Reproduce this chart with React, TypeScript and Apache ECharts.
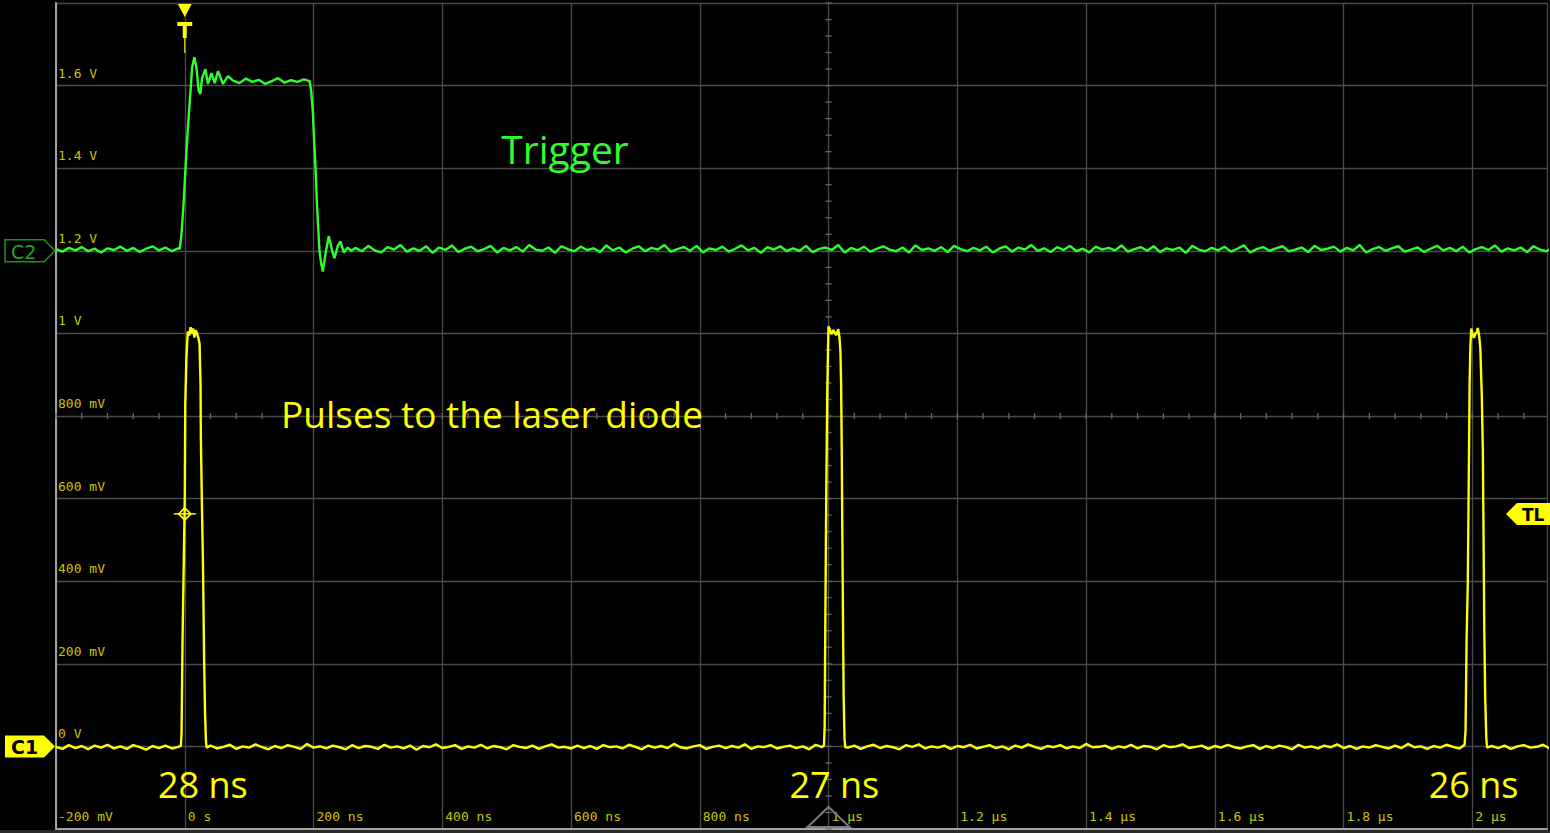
import React, { useEffect, useRef } from "react";
import * as echarts from "echarts";

// ---- axis settings (ns, volts) ----
const X_MIN = -200;
const X_MAX = 2116;
const X_STEP = 200;
const Y_MIN = -0.2;
const Y_MAX = 1.8;
const Y_STEP = 0.2;
const SAMPLE_NS = 10;

// ---- C2 (green, trigger) ----
const c2PreMv = [1204,1198,1207,1201,1209,1199,1205,1196,1206,1202,1210,1200,1207,1197,1205,1211,1201,1208,1199,1206];
const c2Rise: number[][] = [
  [-7.8, 1.205], [-5.1, 1.24], [-1.6, 1.32], [1.1, 1.40], [3.6, 1.466], [6.7, 1.539], [9.3, 1.594],
  [11.3, 1.643], [15, 1.669], [18.1, 1.643], [21.7, 1.587], [24.3, 1.58], [26.8, 1.618], [32.1, 1.64],
  [36.1, 1.604], [41.4, 1.63], [46.5, 1.606], [51.6, 1.635], [59.4, 1.604], [67.1, 1.623],
];
const c2HighMv = [1612,1606,1617,1609,1614,1604,1611,1618,1607,1613,1609,1615];
const c2Fall: number[][] = [
  [193.8, 1.611], [196.4, 1.587], [198.9, 1.539], [200.5, 1.483], [203.1, 1.401], [205.1, 1.321],
  [207.8, 1.242], [209.3, 1.2], [211.9, 1.169], [214.4, 1.15], [218.6, 1.193], [223.7, 1.235],
  [229, 1.2], [232.6, 1.182], [237.7, 1.212], [241.9, 1.223], [247, 1.196], [253.2, 1.208], [258.4, 1.2],
];
const c2AfterMv = [
  1207,1199,1212,1201,1196,1209,1203,1214,1198,1206,1200,1211,1195,1208,1202,1213,1197,1205,1210,1199,
  1204,1212,1196,1207,1201,1209,1198,1214,1203,1200,1208,1195,1211,1204,1199,1210,1202,1206,1197,1213,
  1201,1208,1196,1205,1211,1199,1207,1203,1214,1198,1204,1209,1200,1212,1196,1206,1202,1210,1198,1205,
  1213,1201,1207,1195,1209,1203,1211,1199,1206,1200,1212,1197,1204,1208,1202,1214,1196,1207,1201,1210,
  1198,1205,1211,1203,1199,1208,1196,1213,1202,1206,1200,1209,1197,1212,1204,1199,1207,1201,1210,1196,
  1205,1211,1198,1208,1203,1214,1200,1206,1197,1209,1202,1212,1199,1205,1196,1210,1203,1207,1201,1213,
  1198,1204,1209,1200,1211,1197,1206,1202,1208,1195,1212,1203,1199,1207,1201,1210,1198,1205,1213,1196,
  1204,1209,1200,1206,1211,1199,1203,1208,1197,1212,1202,1205,1210,1198,1207,1201,1214,1196,1204,1209,
  1200,1206,1211,1198,1203,1208,1197,1205,1212,1201,1207,1199,1210,1196,1204,1209,1202,1213,1198,1206,
  1201,1208,1197,1211,1203,1199,1207,1202,1210,1205,
];

// ---- C1 (yellow, laser pulses) ----
const c1Base1Mv = [-1,-6,3,-4,1,-7,2,-3,4,-5,0,-6,3,-2,-8,1,-4,2,-5,-1];
const c1Pulse1: number[][] = [
  [-6, 0.002], [-5, 0.03], [-3.5, 0.25], [-1.5, 0.45], [0, 0.6], [0.8, 0.83], [2.6, 0.94], [4, 0.985],
  [5, 1.005], [7, 0.995], [9, 1.015], [11, 1.0], [13, 1.012], [15, 0.99], [17, 1.008], [19, 1.0],
  [21, 0.99], [23, 0.975], [24.5, 0.88], [25, 0.75], [26.5, 0.6], [28.5, 0.42], [30, 0.22],
  [31.5, 0.08], [33, 0.01], [34, -0.003],
];
const c1Base2Mv = [
  2,-5,-1,4,-6,0,-3,5,-2,-7,1,-4,3,-1,-6,6,-3,0,-5,2,
  -2,-7,3,-4,1,-1,-6,4,-3,0,-5,2,-8,1,-2,5,-4,-1,3,-6,
  0,-3,4,-5,1,-2,-7,3,-1,-4,2,-6,0,5,-3,-1,-5,2,-4,1,
  -6,3,-2,0,-5,4,-1,-7,2,-3,1,-4,6,-2,-5,0,3,-6,-1,2,
  -4,1,-3,5,-6,0,-2,3,-5,-1,2,-4,0,-7,4,-2,
];
const c1Pulse2: number[][] = [
  [993, 0.003], [994, 0.05], [995, 0.3], [996.5, 0.62], [998, 0.85], [999.3, 0.97], [1000, 1.017],
  [1002, 1.01], [1004.5, 0.998], [1007.5, 1.008], [1010, 1.0], [1012, 0.996], [1015, 1.01],
  [1017, 0.99], [1018.5, 0.955], [1019.5, 0.88], [1020.5, 0.72], [1021.5, 0.5], [1022.5, 0.3],
  [1023.5, 0.12], [1024.8, 0.02], [1026, -0.002],
];
const c1Base3Mv = [
  -3,2,-6,0,4,-4,1,-2,-7,3,-1,5,-5,0,-3,2,-6,1,-2,4,
  -5,-1,3,-4,0,-7,2,-3,5,-1,-6,1,-2,3,-5,0,-4,6,-2,-1,
  2,-6,0,-3,4,-5,1,-1,-7,3,-2,0,5,-4,-1,2,-6,1,-3,4,
  -2,-5,0,3,-6,1,-4,2,-1,-7,4,-3,0,-5,2,-2,5,-4,1,-6,
  0,-3,3,-1,-5,2,-4,6,-2,0,-6,1,-3,4,-1,-5,
];
const c1Pulse3: number[][] = [
  [1988, 0.004], [1989.5, 0.04], [1991, 0.25], [1993, 0.4], [1994.3, 0.62], [1995.8, 0.88], [1997, 0.97],
  [1998.4, 1.012], [2000, 1.0], [2001.5, 0.992], [2003.1, 0.99], [2005, 1.002], [2006.5, 1.0],
  [2008.5, 1.013], [2010.5, 0.995], [2012.4, 0.965], [2014.7, 0.85], [2016.3, 0.72], [2017.5, 0.5],
  [2018.6, 0.28], [2020, 0.12], [2021.7, 0.02], [2023, -0.003],
];
const c1Base4Mv = [1,-4,2,-6,0,3,-3,-1,4,-5];

// ---- annotations ----
const pulseWidths = ["28 ns", "27 ns", "26 ns"];
const pulseLabelTimes = [28, 1009, 2002];
const TRIGGER_LEVEL = 0.563;

const samples = (start: number, mv: number[]) => mv.map((m, i) => [start + i * SAMPLE_NS, m / 1000]);

const c2Data = [
  ...samples(-200, c2PreMv), ...c2Rise, ...samples(75, c2HighMv), ...c2Fall, ...samples(265, c2AfterMv),
];
const c1Data = [
  ...samples(-200, c1Base1Mv), ...c1Pulse1, ...samples(40, c1Base2Mv), ...c1Pulse2,
  ...samples(1030, c1Base3Mv), ...c1Pulse3, ...samples(2030, c1Base4Mv),
];

const xLabel = (v: number) => {
  const r = Math.round(v);
  if (r % 200 !== 0 || r < 0) return "";
  if (r === 0) return "0 s";
  if (r < 1000) return `${r} ns`;
  return `${r / 1000} µs`;
};
const yLabel = (v: number) => {
  const r = Math.round(v * 10) / 10;
  if (r >= 1.8) return "";
  if (r === 0) return "0 V";
  if (Math.abs(r) >= 1) return `${r} V`;
  return `${Math.round(r * 1000)} mV`;
};

// minor tick positions on the centre cross-hair (every 1/5 division)
const hTicks: number[][] = [];
for (let t = X_MIN; t <= X_MAX; t += 40) hTicks.push([t, 0.8]);
const vTicks: number[][] = [];
for (let k = 0; k <= 50; k++) vTicks.push([1000, Y_MIN + k * 0.04]);

const LABEL_COLOR = "#c9c400";
const GRID_COLOR = "#4a4a4a";
const YELLOW = "#ffff00";
const GREEN = "#2cff2c";
const HAND_FONT = '"Open Sans", "Noto Sans", sans-serif';

export default function App() {
  const ref = useRef<HTMLDivElement>(null);
  useEffect(() => {
    if (!ref.current) return;
    const chart = echarts.init(ref.current, null, { renderer: "svg" });
    const option: any = {
      animation: false,
      backgroundColor: "#000",
      grid: { left: 56, right: 0, top: 3, bottom: 4 },
      xAxis: {
        type: "value",
        min: X_MIN,
        max: X_MAX,
        interval: X_STEP,
        axisLine: { show: true, onZero: false, lineStyle: { color: "#a3a3a3", width: 2 } },
        axisTick: { show: false },
        splitLine: { show: true, lineStyle: { color: GRID_COLOR, width: 1.3 } },
        axisLabel: {
          inside: true,
          formatter: xLabel,
          color: LABEL_COLOR,
          fontFamily: "DejaVu Sans Mono",
          fontSize: 13,
          align: "left",
          verticalAlign: "bottom",
          margin: 6,
          padding: [0, 0, 0, 3],
        },
      },
      yAxis: {
        type: "value",
        min: Y_MIN,
        max: Y_MAX,
        interval: Y_STEP,
        axisLine: { show: true, onZero: false, lineStyle: { color: "#a3a3a3", width: 2 } },
        axisTick: { show: false },
        splitLine: { show: true, lineStyle: { color: GRID_COLOR, width: 1.3 } },
        axisLabel: {
          inside: true,
          formatter: yLabel,
          color: LABEL_COLOR,
          fontFamily: "DejaVu Sans Mono",
          fontSize: 13,
          align: "left",
          verticalAlign: "bottom",
          margin: 2,
          padding: [0, 0, 6, 0],
        },
      },
      series: [
        {
          type: "custom",
          silent: true,
          z: 1,
          data: hTicks,
          renderItem: (_p: any, api: any) => {
            const c = api.coord([api.value(0), api.value(1)]);
            return { type: "line", shape: { x1: c[0], y1: c[1] - 3, x2: c[0], y2: c[1] + 3 }, style: { stroke: "#666", lineWidth: 1.3 } };
          },
        },
        {
          type: "custom",
          silent: true,
          z: 1,
          data: vTicks,
          renderItem: (_p: any, api: any) => {
            const c = api.coord([api.value(0), api.value(1)]);
            return { type: "line", shape: { x1: c[0] - 3, y1: c[1], x2: c[0] + 3, y2: c[1] }, style: { stroke: "#666", lineWidth: 1.3 } };
          },
        },
        {
          name: "C2",
          type: "line",
          data: c2Data,
          showSymbol: false,
          silent: true,
          z: 3,
          lineStyle: { color: GREEN, width: 2.4 },
        },
        {
          name: "C1",
          type: "line",
          data: c1Data,
          showSymbol: false,
          silent: true,
          z: 4,
          lineStyle: { color: YELLOW, width: 2.4 },
        },
      ],
    };
    chart.setOption(option);

    const px = (t: number, v: number) => chart.convertToPixel({ gridIndex: 0 }, [t, v]) as number[];
    const trig = px(0, TRIGGER_LEVEL);
    const c1Zero = px(X_MIN, 0);
    const c2Ref = px(X_MIN, 1.2);
    const tl = px(X_MAX, TRIGGER_LEVEL);
    const centerBottom = px(1000, Y_MIN);
    const top = px(0, Y_MAX);
    const labelY = px(0, -0.092)[1];

    const flag = (y: number, x0: number, x1: number, tipLeft: boolean) =>
      tipLeft
        ? [[x1, y - 11], [x0 + 11, y - 11], [x0, y], [x0 + 11, y + 11], [x1, y + 11]]
        : [[x0, y - 11], [x1 - 11, y - 11], [x1, y], [x1 - 11, y + 11], [x0, y + 11]];

    const graphics: any[] = [
      // bottom strip
      { type: "rect", shape: { x: 0, y: 830, width: 1550, height: 3 }, style: { fill: "#2a2a2a" }, z: 50 },
      // trigger marker on top
      { type: "polygon", shape: { points: [[trig[0] - 7, top[1] + 1], [trig[0] + 7, top[1] + 1], [trig[0], top[1] + 14]] }, style: { fill: YELLOW }, z: 60 },
      { type: "rect", shape: { x: trig[0] - 7.5, y: top[1] + 19, width: 15, height: 4 }, style: { fill: YELLOW }, z: 60 },
      { type: "rect", shape: { x: trig[0] - 2, y: top[1] + 19, width: 4, height: 16 }, style: { fill: YELLOW }, z: 60 },
      { type: "line", shape: { x1: trig[0], y1: top[1] + 35, x2: trig[0], y2: top[1] + 50 }, style: { stroke: YELLOW, lineWidth: 1 }, z: 60 },
      // trigger point diamond
      { type: "polygon", shape: { points: [[trig[0], trig[1] - 6], [trig[0] + 6, trig[1]], [trig[0], trig[1] + 6], [trig[0] - 6, trig[1]]] }, style: { fill: "none", stroke: YELLOW, lineWidth: 1.8 }, z: 60 },
      { type: "line", shape: { x1: trig[0] - 11, y1: trig[1], x2: trig[0] + 11, y2: trig[1] }, style: { stroke: YELLOW, lineWidth: 1.5 }, z: 60 },
      // C1 flag
      { type: "polygon", shape: { points: flag(c1Zero[1], 5, 55, false) }, style: { fill: YELLOW }, z: 60 },
      { type: "text", style: { text: "C1", x: 11, y: c1Zero[1] + 1, fill: "#000", fontSize: 19, fontWeight: "bold", fontFamily: '"Liberation Sans Narrow", "DejaVu Sans"', verticalAlign: "middle" }, z: 61 },
      // C2 flag
      { type: "polygon", shape: { points: flag(c2Ref[1], 5, 55, false) }, style: { fill: "#000", stroke: "#1f8f1f", lineWidth: 1.5 }, z: 60 },
      { type: "text", style: { text: "C2", x: 11, y: c2Ref[1] + 1, fill: "#23a323", fontSize: 19, fontFamily: '"Liberation Sans Narrow", "DejaVu Sans"', verticalAlign: "middle" }, z: 61 },
      // TL flag
      { type: "polygon", shape: { points: flag(tl[1], 1506, 1552, true) }, style: { fill: YELLOW }, z: 60 },
      { type: "text", style: { text: "TL", x: 1522, y: tl[1] + 1, fill: "#000", fontSize: 17, fontWeight: "bold", fontFamily: '"DejaVu Sans"', verticalAlign: "middle" }, z: 61 },
      // horizontal position marker
      { type: "polygon", shape: { points: [[centerBottom[0] - 21, centerBottom[1] - 2], [centerBottom[0], centerBottom[1] - 22], [centerBottom[0] + 21, centerBottom[1] - 2]] }, style: { fill: "none", stroke: "#7a7a7a", lineWidth: 2 }, z: 60 },
      // annotations
      { type: "text", style: { text: "Trigger", x: 565, y: 148, fill: GREEN, fontSize: 39, fontFamily: HAND_FONT, align: "center", verticalAlign: "middle" }, z: 70 },
      { type: "text", style: { text: "Pulses to the laser diode", x: 492, y: 413, fill: YELLOW, fontSize: 37, fontFamily: HAND_FONT, align: "center", verticalAlign: "middle" }, z: 70 },
      ...pulseWidths.map((s, i) => ({
        type: "text",
        style: { text: s, x: px(pulseLabelTimes[i], 0)[0], y: labelY, fill: YELLOW, fontSize: 36, lineHeight: 32, fontFamily: HAND_FONT, align: "center", verticalAlign: "middle" },
        z: 70,
      })),
    ];
    chart.setOption({ graphic: graphics });
    return () => chart.dispose();
  }, []);
  return (
    <div
      ref={ref}
      style={{ position: "fixed", left: 0, top: 0, width: 1550, height: 833, background: "#000" }}
    />
  );
}
